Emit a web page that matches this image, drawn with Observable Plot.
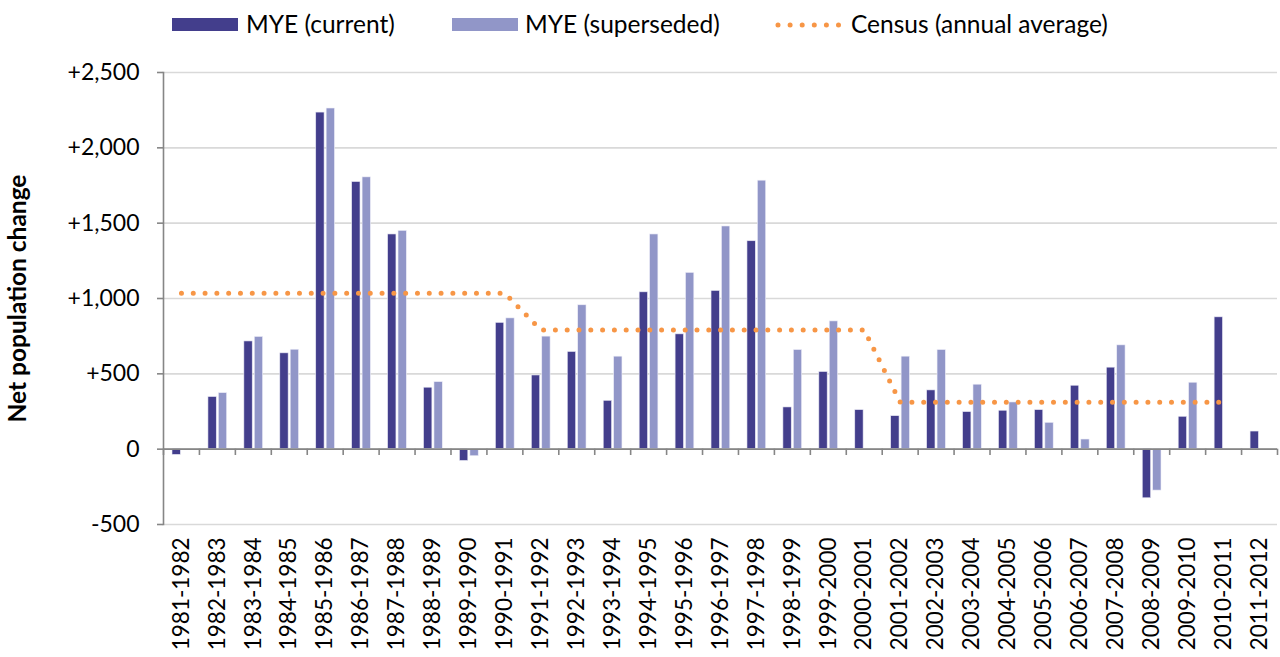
<!DOCTYPE html>
<html>
<head>
<meta charset="utf-8">
<script src="https://cdn.jsdelivr.net/npm/d3@7"></script>
<script src="https://cdn.jsdelivr.net/npm/@observablehq/plot@0.6"></script>
<style>
  html, body { margin: 0; padding: 0; background: #fff; }
  body { width: 1280px; height: 657px; overflow: hidden; font-family: Lato, "Open Sans", sans-serif; }
  #legend { position: relative; height: 50px; width: 1280px; }
  .sw { position: absolute; top: 18px; width: 66px; height: 13px; }
  .lab { position: absolute; top: 9px; font-size: 24.5px; line-height: 30px; color: #000; white-space: nowrap; }
  #chart svg { display: block; }
</style>
</head>
<body>
<div id="legend"></div>
<div id="chart"></div>
<script>
const categories = ["1981-1982","1982-1983","1983-1984","1984-1985","1985-1986","1986-1987","1987-1988","1988-1989","1989-1990","1990-1991","1991-1992","1992-1993","1993-1994","1994-1995","1995-1996","1996-1997","1997-1998","1998-1999","1999-2000","2000-2001","2001-2002","2002-2003","2003-2004","2004-2005","2005-2006","2006-2007","2007-2008","2008-2009","2009-2010","2010-2011","2011-2012"];
const myeCurrent = [-38, 346, 715, 636, 2234, 1773, 1425, 408, -78, 838, 489, 645, 321, 1041, 762, 1050, 1380, 277, 512, 259, 219, 390, 246, 255, 259, 421, 541, -326, 215, 875, 117];
const myeSuperseded = [null, 372, 745, 660, 2261, 1804, 1449, 445, -47, 868, 747, 955, 614, 1425, 1170, 1478, 1782, 658, 848, null, 614, 658, 428, 310, 175, 64, 689, -275, 441, null, null];
const censusAverage = [1035,1035,1035,1035,1035,1035,1035,1035,1035,1035, 791,791,791,791,791,791,791,791,791,791, 312,312,312,312,312,312,312,312,312,312, null];
const yTicks = [-500, 0, 500, 1000, 1500, 2000, 2500];
const yTickLabels = ["-500", "0", "+500", "+1,000", "+1,500", "+2,000", "+2,500"];
const seriesNames = ["MYE (current)", "MYE (superseded)", "Census (annual average)"];
const yTitle = "Net population change";

const colCurrent = "#433e8c";
const colSuper = "#9196c8";
const colCensus = "#f79646";

// legend
const legend = document.getElementById("legend");
const legendPos = [{sw: 172, lab: 246}, {sw: 452, lab: 525}, {sw: 775, lab: 851}];
seriesNames.forEach((name, i) => {
  const sw = i < 2
    ? `<div class="sw" style="left:${legendPos[i].sw}px;background:${i === 0 ? colCurrent : colSuper}"></div>`
    : `<svg style="position:absolute;left:${legendPos[i].sw}px;top:15px" width="70" height="20"><line x1="3" y1="10" x2="66" y2="10" stroke="${colCensus}" stroke-width="5" stroke-linecap="round" stroke-dasharray="0 12.1"/></svg>`;
  legend.insertAdjacentHTML("beforeend", sw + `<div class="lab" style="left:${legendPos[i].lab}px">${name}</div>`);
});

const rows = categories.map((c, i) => ({cat: c, current: myeCurrent[i], superseded: myeSuperseded[i], census: censusAverage[i]}));

const W = 1280, H = 607, mL = 163, mR = 3, mT = 22, mB = 133;
const bw = (W - mL - mR) / categories.length;

const chart = Plot.plot({
  width: W, height: H,
  marginTop: mT, marginBottom: mB, marginLeft: mL, marginRight: mR,
  style: {fontFamily: "Lato, 'Open Sans', sans-serif", color: "#000", background: "#fff"},
  x: {domain: categories, padding: 0, round: false},
  y: {domain: [-500, 2500]},
  marks: [
    Plot.gridY(yTicks, {stroke: "#d9d9d9", strokeOpacity: 1, strokeWidth: 1.6}),
    Plot.barY(rows.filter(d => d.current != null), {x: "cat", y: "current", fill: colCurrent, stroke: "#e8e8f4", strokeWidth: 0.6, insetLeft: 9, insetRight: 18.6}),
    Plot.barY(rows.filter(d => d.superseded != null), {x: "cat", y: "superseded", fill: colSuper, stroke: "#eeeef8", strokeWidth: 0.6, insetLeft: 19.4, insetRight: 8.2}),
    Plot.ruleY([0], {stroke: "#868686", strokeWidth: 1.6}),
    Plot.ruleX(categories, {x: d => d, y1: 0, y2: -42, dx: -bw / 2, stroke: "#868686", strokeWidth: 1.6}),
    Plot.ruleX(categories.slice(-1), {x: d => d, y1: 0, y2: -42, dx: bw / 2, stroke: "#868686", strokeWidth: 1.6}),
    Plot.frame({anchor: "left", stroke: "#868686", strokeWidth: 1.6}),
    Plot.axisY({ticks: yTicks, tickFormat: d => yTickLabels[yTicks.indexOf(d)], tickSize: 6, tickPadding: 18, fontSize: 23, stroke: "#868686", strokeWidth: 1.6, label: null}),
    Plot.axisX({anchor: "bottom", tickRotate: -90, tickSize: 0, tickPadding: 13, fontSize: 22.5, label: null}),
    Plot.line(rows.filter(d => d.census != null), {x: "cat", y: "census", stroke: colCensus, strokeWidth: 5, strokeLinecap: "round", strokeDasharray: "0 11.8"}),
    Plot.text([yTitle], {frameAnchor: "left", textAnchor: "middle", rotate: -90, dx: -145, fontSize: 24.5, fontWeight: "bold", fill: "#000"})
  ]
});
document.getElementById("chart").appendChild(chart);
</script>
</body>
</html>
